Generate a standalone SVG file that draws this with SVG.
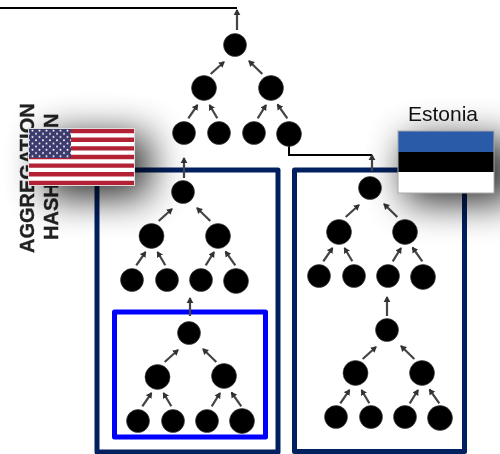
<svg xmlns="http://www.w3.org/2000/svg" width="500" height="454" viewBox="0 0 500 454">
<style>
.n{fill:#000;stroke:#444;stroke-width:.6}
.a{stroke:#444;stroke-width:2.200;fill:none;marker-end:url(#h)}
.w{stroke:#000;stroke-width:2;fill:none}
.f{fill:none;stroke:#002060;stroke-width:5;stroke-linejoin:round}
.t{font-family:"Liberation Sans",Arial,sans-serif;font-weight:700;font-size:20px;fill:#222;stroke:#222;stroke-width:.3;filter:url(#s)}
</style>
<defs>
<marker id="h" markerUnits="userSpaceOnUse" markerWidth="8" markerHeight="8" refX="5" refY="4" orient="auto"><path d="M0 .6L6 4L0 7.400z" fill="#333"/></marker>
<filter id="s" x="-10%" y="-10%" width="120%" height="120%"><feGaussianBlur stdDeviation=".45"/></filter>
<filter id="b" x="-80%" y="-120%" width="260%" height="340%"><feGaussianBlur stdDeviation="19"/></filter>
<pattern id="st" width="7" height="6.400" patternUnits="userSpaceOnUse" patternTransform="translate(29 129)"><circle cx="3.500" cy="1.600" r="1" fill="#fff"/><circle cx="0" cy="4.800" r="1" fill="#fff"/><circle cx="7" cy="4.800" r="1" fill="#fff"/></pattern>
<g id="tree">
<path class="a" d="M-24.300 29L-11 17"/>
<path class="a" d="M27.300 29L14 16"/>
<path class="a" d="M-46.700 73.300L-37.500 60"/>
<path class="a" d="M-17.700 73.300L-25.500 60"/>
<path class="a" d="M22.700 73.300L31 60"/>
<path class="a" d="M52.300 73.300L42.500 59.500"/>
</g>
</defs>
<rect width="500" height="454" fill="#fff"/>
<g id="labels">
<text class="t" transform="translate(34 253) rotate(-90)">AGGREGATION</text>
<text class="t" transform="translate(58 240) rotate(-90)">HASH</text>
<text class="t" transform="translate(58 128) rotate(-90)">N</text>
</g>
<g id="frames">
<rect id="frame-left" class="f" x="97" y="170" width="181" height="282"/>
<rect id="frame-right" class="f" x="294.500" y="170" width="170" height="281.500"/>
<rect id="frame-inner" x="114.500" y="312" width="151" height="125" fill="none" stroke="#00f" stroke-width="5" stroke-linejoin="round"/>
</g>
<g id="connectors" filter="url(#s)">
<path class="w" d="M0 8H237"/>
<path class="w" d="M289 140V155H372"/>
<path class="a" d="M237 30V10"/>
<path class="a" d="M184 178V158"/>
<path class="a" d="M372 171V155"/>
<path class="a" d="M190 316V298"/>
<path class="a" d="M387 316V297"/>
<use href="#tree" x="235" y="45"/>
<use href="#tree" x="183" y="192"/>
<use href="#tree" x="189" y="333"/>
<use href="#tree" x="370" y="188"/>
<use href="#tree" x="387" y="330"/>
</g>
<g id="nodes" filter="url(#s)">
<g id="a0"><circle class="n" cx="235" cy="45" r="11.500"/></g>
<g id="a1"><circle class="n" cx="204" cy="88" r="12.500"/></g>
<g id="a2"><circle class="n" cx="271" cy="88" r="12.500"/></g>
<g id="a3"><circle class="n" cx="184" cy="133" r="11.500"/></g>
<g id="a4"><circle class="n" cx="219" cy="133" r="11.500"/></g>
<g id="a5"><circle class="n" cx="254" cy="133" r="11.500"/></g>
<g id="a6"><circle class="n" cx="289" cy="134" r="12.500"/></g>
<g id="b0"><circle class="n" cx="183" cy="192" r="11.500"/></g>
<g id="b1"><circle class="n" cx="151.500" cy="236" r="12.500"/></g>
<g id="b2"><circle class="n" cx="218" cy="236" r="12.500"/></g>
<g id="b3"><circle class="n" cx="132" cy="280" r="11.500"/></g>
<g id="b4"><circle class="n" cx="167" cy="280" r="11.500"/></g>
<g id="b5"><circle class="n" cx="201" cy="280" r="11.500"/></g>
<g id="b6"><circle class="n" cx="236" cy="281" r="12.500"/></g>
<g id="c0"><circle class="n" cx="189" cy="333" r="11.500"/></g>
<g id="c1"><circle class="n" cx="157.500" cy="377" r="12.500"/></g>
<g id="c2"><circle class="n" cx="224" cy="376" r="12.500"/></g>
<g id="c3"><circle class="n" cx="138" cy="421" r="11.500"/></g>
<g id="c4"><circle class="n" cx="173" cy="421" r="11.500"/></g>
<g id="c5"><circle class="n" cx="207" cy="421" r="11.500"/></g>
<g id="c6"><circle class="n" cx="242" cy="421" r="12.500"/></g>
<g id="d0"><circle class="n" cx="370" cy="188" r="11.500"/></g>
<g id="d1"><circle class="n" cx="339" cy="232" r="12.500"/></g>
<g id="d2"><circle class="n" cx="405" cy="232" r="12.500"/></g>
<g id="d3"><circle class="n" cx="319" cy="276" r="11.500"/></g>
<g id="d4"><circle class="n" cx="354" cy="276" r="11.500"/></g>
<g id="d5"><circle class="n" cx="388" cy="276" r="11.500"/></g>
<g id="d6"><circle class="n" cx="423" cy="277" r="12.500"/></g>
<g id="e0"><circle class="n" cx="387" cy="330" r="11.500"/></g>
<g id="e1"><circle class="n" cx="355.500" cy="373" r="12.500"/></g>
<g id="e2"><circle class="n" cx="422" cy="373" r="12.500"/></g>
<g id="e3"><circle class="n" cx="336" cy="417" r="11.500"/></g>
<g id="e4"><circle class="n" cx="371" cy="417" r="11.500"/></g>
<g id="e5"><circle class="n" cx="405" cy="417" r="11.500"/></g>
<g id="e6"><circle class="n" cx="440" cy="418" r="12.500"/></g>
</g>
<g id="shadows" fill="#000" filter="url(#b)" opacity=".85">
<rect x="45" y="135" width="104" height="62"/>
<rect x="405" y="140" width="110" height="62"/>
</g>
<g id="flag-us">
<rect x="28" y="128" width="107" height="58" fill="#fff"/>
<path d="M29 131H134M29 139.700H134M29 148.400H134M29 157H134M29 165.600H134M29 174.200H134M29 182.900H134" stroke="#b22234" stroke-width="4.400" fill="none"/>
<rect x="29" y="129" width="42" height="29" fill="#3c3b6e"/>
<rect x="29" y="129" width="42" height="29" fill="url(#st)"/>
<rect x="28.500" y="128.500" width="106" height="57" fill="none" stroke="#ddd" stroke-width="1"/>
</g>
<g id="flag-estonia">
<rect x="398" y="131" width="96" height="21" fill="#2a5ba8"/>
<rect x="398" y="152" width="96" height="20" fill="#000"/>
<rect x="398" y="172" width="96" height="21" fill="#fff"/>
<rect x="398" y="131" width="96" height="62" fill="none" stroke="#aaa" stroke-width="1"/>
<text x="408" y="121" font-family="'Liberation Sans',Arial,sans-serif" font-size="21" fill="#111">Estonia</text>
</g>
</svg>
